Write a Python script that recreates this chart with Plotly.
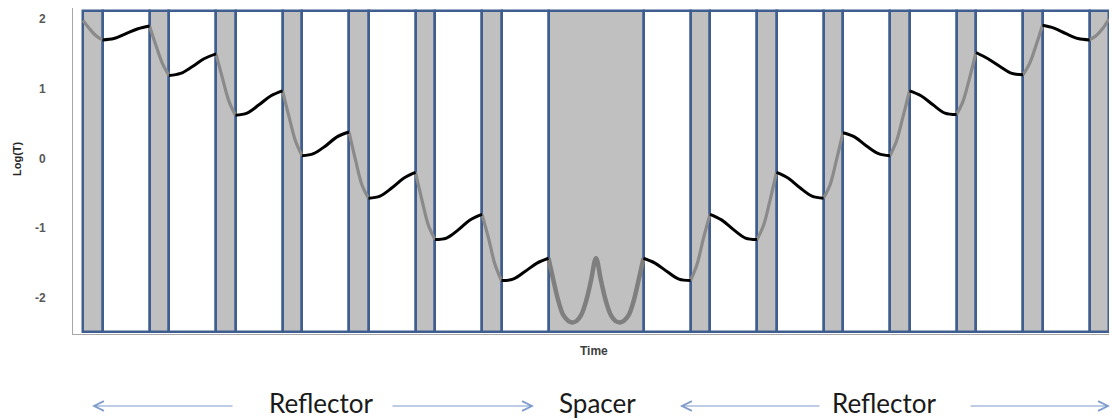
import plotly.graph_objects as go
import numpy as np

# ---- data ----
# layer structure of the mirror: H = high-index (gray), L = low-index (white), S = spacer
layer_kind = ["H", "L", "H", "L", "H", "L", "H", "L", "H", "L", "H", "L", "H", "L",
              "S",
              "L", "H", "L", "H", "L", "H", "L", "H", "L", "H", "L", "H", "L", "H"]
layer_duration = [19.5, 47, 19.5, 47, 19.5, 47, 19.5, 47, 19.5, 47, 19.5, 47, 19.5, 47,
                  95,
                  47, 19.5, 47, 19.5, 47, 19.5, 47, 19.5, 47, 19.5, 47, 19.5, 47, 19.5]

# Log(T) curve (time, value)
curve_t = [
    0, 6.5, 13, 19.5,
    31, 43, 55, 66.5,
    73, 79.5, 86,
    97.5, 109.5, 121, 133,
    139.5, 146, 152.5,
    164, 176, 188, 199.5,
    206, 212.5, 219,
    230.5, 242.5, 254, 266,
    272.5, 279, 285.5,
    297, 309, 321, 332.5,
    339, 345.5, 352,
    363.5, 375.5, 387, 399,
    405.5, 412, 418.5,
    430, 442, 454, 465.5,
    470.5, 475.5, 480.5, 485.5, 489.5, 493.5, 498, 503, 508, 513,
    518, 523, 528, 532.5, 536.5, 540.5, 545.5, 550.5, 555.5, 560.5,
    572, 584, 596, 607.5,
    614, 620.5, 627,
    638.5, 650.5, 662.5, 674,
    680.5, 687, 693.5,
    705, 717, 729, 740.5,
    747, 753.5, 760,
    771.5, 783.5, 795.5, 807,
    813.5, 820, 826.5,
    838, 850, 862, 873.5,
    880, 886.5, 893,
    905, 917, 929, 940,
    946.5, 953, 959.5,
    971, 983, 995, 1006.5,
    1013, 1019.5, 1026,
]
curve_logT = [
    1.98, 1.86, 1.76, 1.70,
    1.72, 1.79, 1.86, 1.90,
    1.62, 1.36, 1.19,
    1.22, 1.32, 1.43, 1.50,
    1.15, 0.82, 0.62,
    0.65, 0.77, 0.90, 0.97,
    0.60, 0.25, 0.04,
    0.07, 0.18, 0.31, 0.38,
    -0.02, -0.38, -0.57,
    -0.54, -0.42, -0.28, -0.20,
    -0.60, -0.96, -1.16,
    -1.14, -1.02, -0.88, -0.80,
    -1.14, -1.52, -1.75,
    -1.73, -1.62, -1.50, -1.43,
    -1.75, -2.05, -2.25, -2.33, -2.35, -2.33, -2.25, -2.05, -1.75, -1.43,
    -1.75, -2.05, -2.25, -2.33, -2.35, -2.33, -2.25, -2.05, -1.75, -1.43,
    -1.50, -1.62, -1.73, -1.75,
    -1.52, -1.14, -0.80,
    -0.88, -1.02, -1.14, -1.16,
    -0.96, -0.60, -0.20,
    -0.28, -0.42, -0.54, -0.57,
    -0.38, -0.02, 0.37,
    0.31, 0.18, 0.07, 0.04,
    0.25, 0.60, 0.97,
    0.90, 0.77, 0.65, 0.63,
    0.82, 1.15, 1.52,
    1.43, 1.32, 1.22, 1.20,
    1.36, 1.62, 1.91,
    1.87, 1.79, 1.72, 1.70,
    1.76, 1.86, 2.00,
]
y_ticks = [-2, -1, 0, 1, 2]
y_tick_labels = ["-2", "-1", "0", "1", "2"]

# ---- figure ----
Y_LO, Y_HI = -2.516, 2.158        # axis range
BAR_LO, BAR_HI = -2.487, 2.122    # extent of layer columns
BLUE = "#3f5e8f"
GRAY_FILL = "#c0c0c0"

bounds = np.concatenate([[0.0], np.cumsum(layer_duration)])
centers = (bounds[:-1] + bounds[1:]) / 2
fills = [GRAY_FILL if k in ("H", "S") else "#ffffff" for k in layer_kind]

fig = go.Figure()
fig.add_trace(go.Bar(
    x=centers, y=[BAR_HI - BAR_LO] * len(layer_kind), base=BAR_LO,
    width=layer_duration,
    marker=dict(color=fills, line=dict(color=BLUE, width=2.5)),
    hoverinfo="skip", showlegend=False,
))

segs = {"L": ([], []), "H": ([], []), "S": ([], [])}
for i, kind in enumerate(layer_kind):
    a, b = bounds[i], bounds[i + 1]
    xs, ys = segs[kind]
    for t, v in zip(curve_t, curve_logT):
        if a - 1e-6 <= t <= b + 1e-6:
            xs.append(t)
            ys.append(v)
    xs.append(None)
    ys.append(None)

styles = {"H": ("#8a8a8a", 3.2), "S": ("#7f7f7f", 4.5), "L": ("#000000", 3.0)}
for kind in ["H", "S", "L"]:
    xs, ys = segs[kind]
    col, w = styles[kind]
    fig.add_trace(go.Scatter(
        x=xs, y=ys, mode="lines", connectgaps=False,
        line=dict(color=col, width=w, shape="spline", smoothing=1.0),
        hoverinfo="skip", showlegend=False,
    ))

L_M, R_M, T_M, B_M = 73, 3, 8, 85
W, H = 1112, 419
pw, ph = W - L_M - R_M, H - T_M - B_M


def px_x(px):
    return (px - L_M) / pw


def px_y(py):
    return (H - B_M - py) / ph


annots = [
    dict(text="<b>Log(T)</b>", x=px_x(17), y=px_y(159), textangle=-90,
         font=dict(size=11, color="#262626", family="Liberation Sans")),
    dict(text="<b>Time</b>", x=px_x(594), y=px_y(351),
         font=dict(size=12, color="#404040", family="Liberation Sans")),
    dict(text="Reflector", x=px_x(321), y=px_y(403),
         font=dict(size=26, color="#1a1a1a", family="Lato")),
    dict(text="Spacer", x=px_x(597), y=px_y(403),
         font=dict(size=26, color="#1a1a1a", family="Lato")),
    dict(text="Reflector", x=px_x(884), y=px_y(403),
         font=dict(size=26, color="#1a1a1a", family="Lato")),
]
for a in annots:
    a.update(xref="paper", yref="paper", showarrow=False,
             xanchor="center", yanchor="middle", borderpad=0)
    fig.add_annotation(**a)

ARROW = "#7f9ccb"
# (tip_px, tail_px)
arrows = [(92, 234), (534, 391), (680, 821), (1110, 969)]
for tip, tail in arrows:
    fig.add_annotation(
        x=px_x(tip), y=px_y(406), xref="paper", yref="paper",
        ax=tail - tip, ay=0, axref="pixel", ayref="pixel",
        text="", showarrow=True, arrowhead=5, arrowsize=1.6,
        arrowwidth=1.2, arrowcolor=ARROW,
    )

fig.update_layout(
    width=W, height=H,
    margin=dict(l=L_M, r=R_M, t=T_M, b=B_M),
    paper_bgcolor="white", plot_bgcolor="white",
    bargap=0, barmode="overlay",
    xaxis=dict(range=[-10, bounds[-1]], showticklabels=False, ticks="",
               showgrid=False, zeroline=False, showline=True,
               linecolor="#a6a6a6", linewidth=1, layer="below traces"),
    yaxis=dict(range=[Y_LO, Y_HI], tickvals=y_ticks, ticktext=y_tick_labels,
               ticks="", showgrid=False, zeroline=False, showline=True,
               linecolor="#a6a6a6", linewidth=1, layer="below traces",
               ticklabelstandoff=24,
               tickfont=dict(size=12, color="#595959",
                             family="Liberation Sans", weight="bold")),
)

fig.write_html(
    "out.html",
    config={"displayModeBar": False},
    post_script="document.body.style.margin='0px';document.body.style.overflow='hidden';",
)
